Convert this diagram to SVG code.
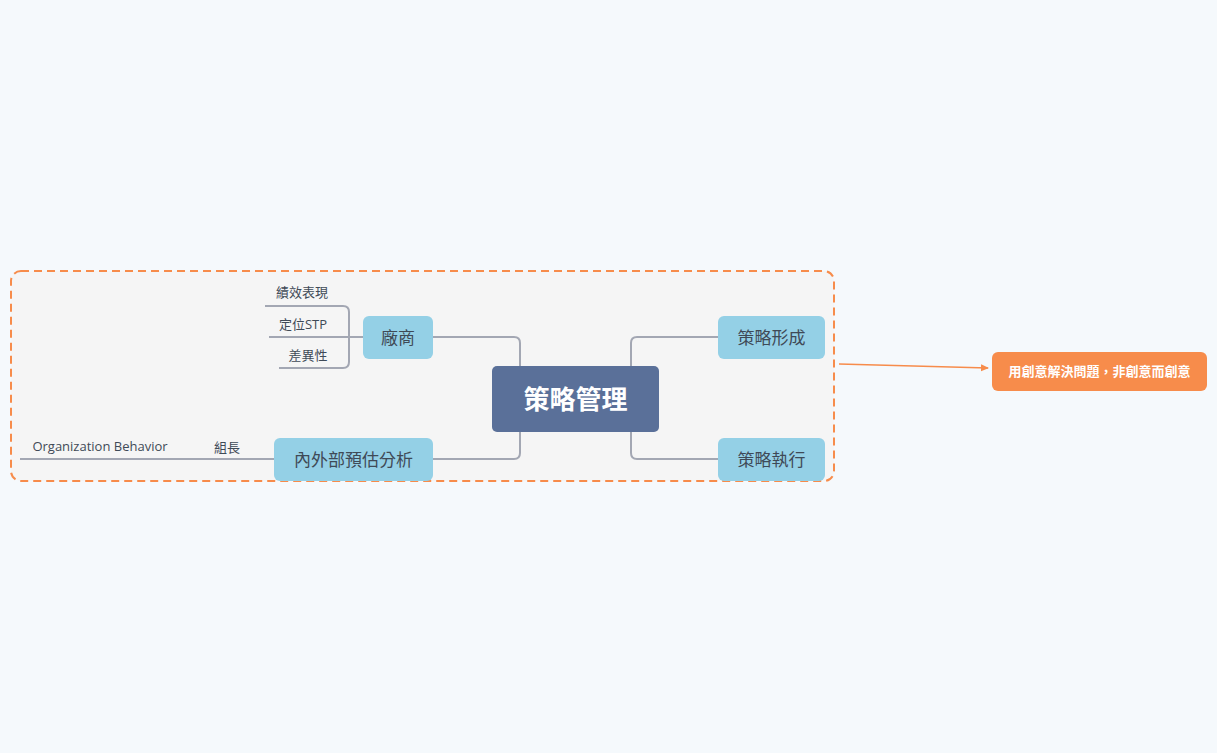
<svg xmlns="http://www.w3.org/2000/svg" width="1217" height="753" viewBox="0 0 1217 753">
<style>
text{font-family:"Open Sans","Noto Sans CJK TC",sans-serif}
.main{fill:#94d0e6}
.mt{font-size:17px;fill:#3f4a57;text-anchor:middle}
.sub{font-size:13px;fill:#3f4a57;text-anchor:middle}
.ln{fill:none;stroke:#a3a7b3;stroke-width:2}
</style>
<defs><marker id="ar" markerWidth="8" markerHeight="8" refX="7" refY="4" orient="auto" markerUnits="userSpaceOnUse"><path d="M0,0.5 L8,4 L0,7.5z" fill="#f78c4b"/></marker></defs>
<rect width="1217" height="753" fill="#f5f9fc"/>
<rect x="11" y="271" width="823" height="210" rx="10" fill="#f5f5f5" stroke="#f78c4b" stroke-width="2" stroke-dasharray="8,5"/>
<g id="connectors">
<path class="ln" d="M432,337 H514 Q520,337 520,343 V366"/>
<path class="ln" d="M432,459 H514 Q520,459 520,453 V432"/>
<path class="ln" d="M718,337 H637 Q631,337 631,343 V366"/>
<path class="ln" d="M718,459 H637 Q631,459 631,453 V432"/>
<path class="ln" d="M363,337 H349 M265,306 H343 Q349,306 349,312 V362 Q349,368 343,368 H279 M269,337 H349"/>
<path class="ln" d="M274,459 H204 M250,459 H20"/>
<path d="M839,364 L988,368" fill="none" stroke="#f78c4b" stroke-width="1.5" marker-end="url(#ar)"/>
</g>
<g id="root"><rect x="492" y="366" width="167" height="66" rx="5" fill="#5a7099"/><text x="575.5" y="409" font-size="26" font-weight="bold" fill="#fff" text-anchor="middle">策略管理</text></g>
<g id="n1"><rect class="main" x="363" y="316" width="70" height="43" rx="6"/><text class="mt" x="398" y="344">廠商</text></g>
<g id="n2"><rect class="main" x="274" y="438" width="159" height="43" rx="6"/><text class="mt" x="353.5" y="466">內外部預估分析</text></g>
<g id="n3"><rect class="main" x="718" y="316" width="107" height="43" rx="6"/><text class="mt" x="771.5" y="344">策略形成</text></g>
<g id="n4"><rect class="main" x="718" y="438" width="107" height="43" rx="6"/><text class="mt" x="771.5" y="466">策略執行</text></g>
<g id="s1"><text class="sub" x="302" y="297">績效表現</text></g>
<g id="s2"><text class="sub" x="303" y="329">定位STP</text></g>
<g id="s3"><text class="sub" x="308" y="360">差異性</text></g>
<g id="s4"><text class="sub" x="227" y="452">組長</text></g>
<g id="s5"><text class="sub" x="100" y="451">Organization Behavior</text></g>
<g id="note"><rect x="992" y="352" width="215" height="39" rx="6" fill="#f78c4b"/><text x="1099.5" y="376" font-size="13" font-weight="bold" fill="#fff" text-anchor="middle">用創意解決問題，非創意而創意</text></g>
</svg>
